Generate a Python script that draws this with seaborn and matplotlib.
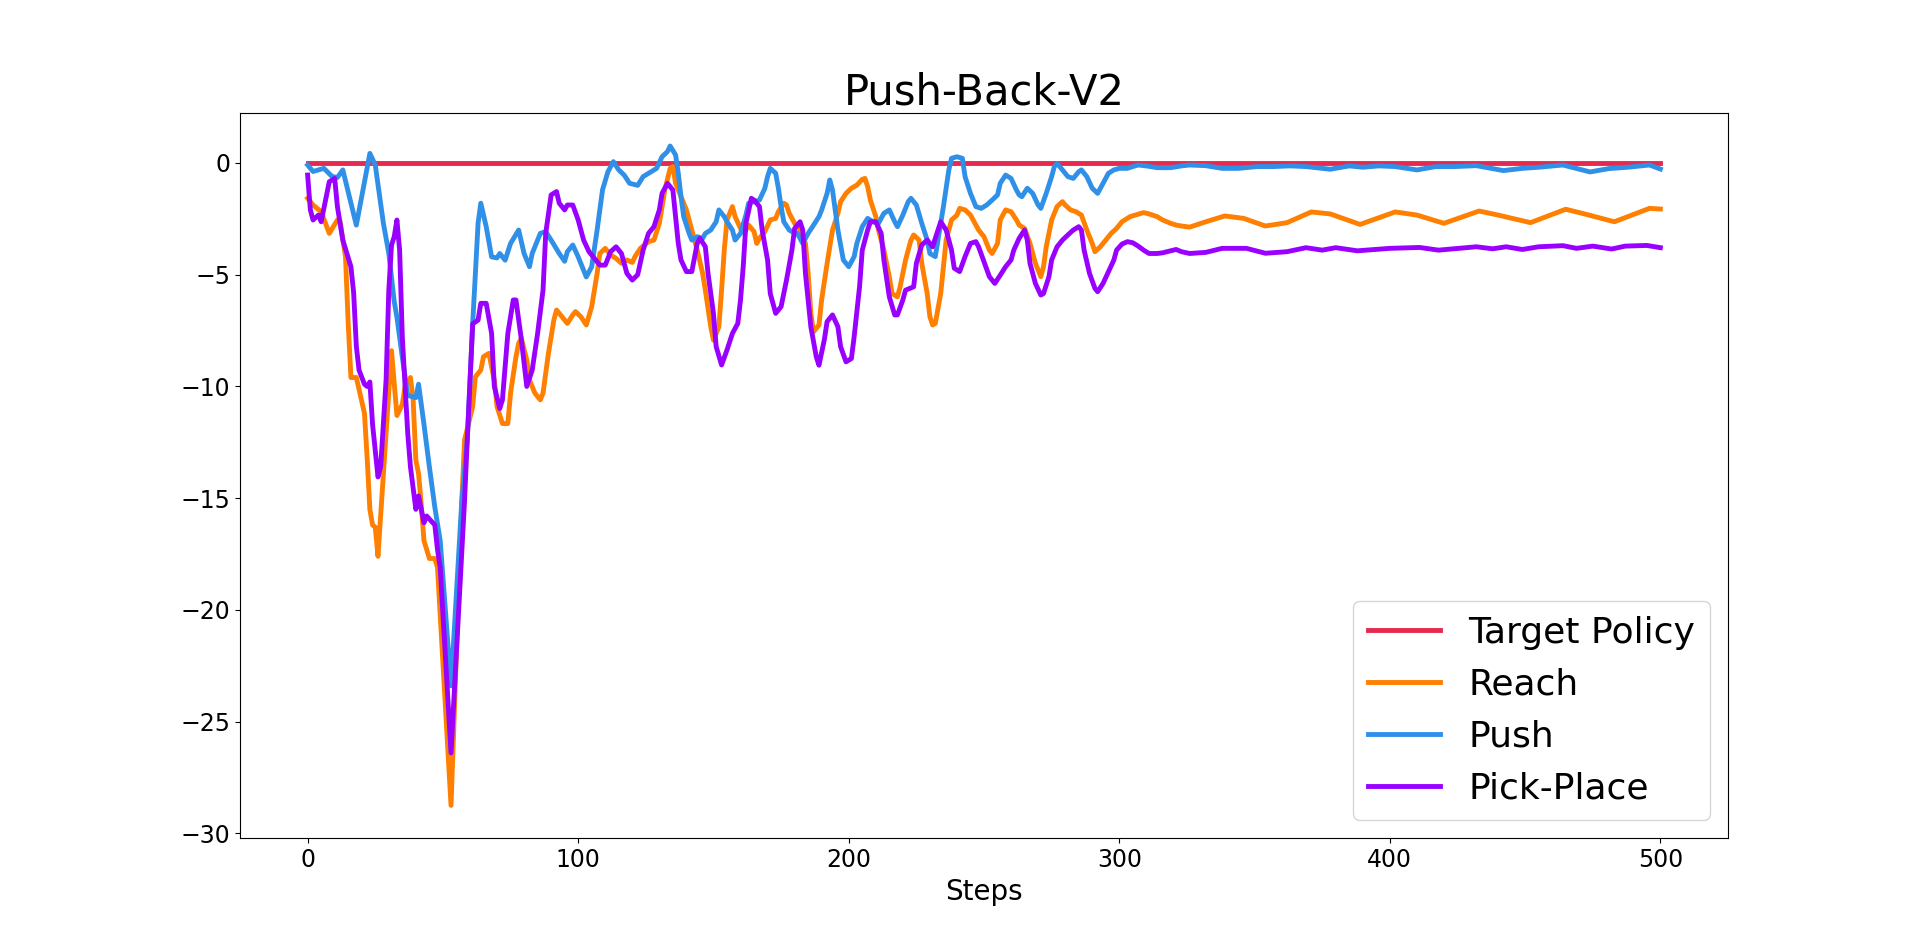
import matplotlib
matplotlib.use("Agg")
import matplotlib.pyplot as plt
import pandas as pd
import seaborn as sns

# values (step, reward)
target_steps = [0, 500]
target_vals = [0.0, 0.0]

push_steps = [0, 2, 6, 9, 11, 13, 18, 23, 25, 28, 30, 32, 33, 35, 37, 40, 41, 43, 45, 47,
              49, 53, 57, 59, 61, 63, 64, 66, 68, 70, 71, 73, 75, 78, 80, 82, 83, 86, 88, 90,
              93, 95, 96, 98, 100, 103, 105, 107, 109, 111, 113, 115, 117, 119, 122, 124, 126, 129, 131, 133,
              134, 136, 137, 138, 139, 141, 142, 144, 146, 147, 149, 151, 152, 154, 155, 157, 158, 160, 162, 163,
              165, 167, 169, 170, 171, 173, 174, 175, 176, 178, 179, 181, 183, 185, 187, 189, 190, 192, 193, 194,
              196, 198, 200, 202, 203, 205, 207, 209, 211, 213, 215, 217, 218, 220, 222, 223, 225, 227, 229, 230,
              232, 233, 235, 237, 238, 240, 242, 243, 245, 247, 249, 251, 253, 255, 256, 258, 260, 262, 263, 264,
              266, 268, 270, 271, 273, 275, 276, 277, 279, 281, 283, 285, 286, 288, 290, 292, 294, 296, 298, 300,
              303, 305, 307, 310, 314, 319, 323, 326, 332, 338, 344, 351, 357, 363, 369, 378, 385, 390, 396, 402,
              410, 417, 424, 432, 442, 449, 455, 464, 474, 481, 488, 496, 500]
push_vals = [-0.09, -0.38, -0.24, -0.6, -0.65, -0.31, -2.78, 0.43, -0.09, -2.7, -4.04, -6.2, -6.9, -8.7, -10.4, -10.5, -9.9, -11.7, -13.6, -15.4,
             -16.9, -23.4, -15.1, -12.4, -7.2, -2.7, -1.8, -2.85, -4.2, -4.25, -4.05, -4.35, -3.6, -3.0, -4.05, -4.64, -4.05, -3.15, -3.07, -3.45,
             -4.05, -4.4, -3.97, -3.67, -4.2, -5.1, -4.64, -3.0, -1.2, -0.39, 0.06, -0.31, -0.54, -0.91, -1.0, -0.61, -0.46, -0.24, 0.28, 0.51,
             0.76, 0.36, -0.46, -1.51, -2.4, -3.15, -3.45, -3.3, -3.37, -3.15, -3.0, -2.63, -2.1, -2.4, -2.63, -3.0, -3.45, -3.15, -2.33, -1.8,
             -1.73, -1.66, -1.13, -0.61, -0.24, -0.46, -1.13, -1.95, -2.63, -3.0, -3.07, -3.15, -3.6, -3.15, -2.78, -2.4, -2.1, -1.36, -0.76, -1.21,
             -3.0, -4.34, -4.64, -4.19, -3.6, -2.85, -2.48, -2.63, -2.7, -2.25, -2.1, -2.63, -2.85, -2.33, -1.73, -1.58, -1.88, -2.7, -3.45, -4.05,
             -4.19, -3.45, -1.95, -0.31, 0.21, 0.28, 0.21, -0.61, -1.36, -1.95, -2.03, -1.88, -1.66, -1.43, -0.91, -0.54, -0.69, -1.21, -1.43, -1.51,
             -1.13, -1.36, -1.88, -2.03, -1.36, -0.61, -0.16, -0.02, -0.31, -0.61, -0.69, -0.39, -0.31, -0.61, -1.13, -1.36, -0.91, -0.46, -0.31, -0.24,
             -0.24, -0.16, -0.09, -0.13, -0.21, -0.21, -0.13, -0.09, -0.12, -0.24, -0.24, -0.16, -0.16, -0.13, -0.16, -0.28, -0.13, -0.19, -0.13, -0.16,
             -0.31, -0.16, -0.16, -0.12, -0.34, -0.24, -0.19, -0.09, -0.40, -0.25, -0.19, -0.09, -0.27]

reach_steps = [0, 2, 5, 8, 11, 12, 14, 15, 16, 18, 21, 22, 23, 24, 25, 26, 28, 30, 31, 33,
               35, 36, 38, 39, 40, 41, 42, 43, 45, 47, 48, 53, 57, 58, 61, 62, 64, 65, 67, 69,
               70, 72, 74, 75, 77, 78, 79, 81, 82, 84, 86, 87, 89, 91, 92, 94, 96, 98, 99, 101,
               103, 105, 107, 108, 110, 112, 114, 116, 118, 120, 121, 123, 126, 128, 130, 132, 134, 135, 136, 138,
               140, 142, 144, 146, 147, 149, 150, 152, 153, 154, 155, 157, 158, 160, 162, 163, 165, 166, 167, 169,
               171, 173, 174, 176, 177, 178, 180, 182, 184, 185, 186, 187, 189, 190, 192, 194, 196, 197, 199, 201,
               203, 205, 206, 207, 208, 210, 211, 213, 215, 216, 218, 219, 221, 223, 224, 226, 227, 229, 230, 231,
               232, 234, 235, 236, 238, 240, 241, 243, 245, 247, 248, 250, 252, 253, 255, 256, 258, 260, 262, 263,
               265, 267, 269, 271, 272, 273, 275, 277, 279, 280, 282, 284, 286, 288, 290, 291, 293, 295, 297, 299,
               301, 304, 306, 309, 311, 314, 316, 319, 321, 323, 326, 332, 339, 346, 354, 362, 371, 378, 389, 402,
               410, 420, 433, 440, 452, 465, 472, 483, 496, 500]
reach_vals = [-1.58, -1.88, -2.18, -3.15, -2.55, -2.63, -4.2, -7.2, -9.6, -9.6, -11.2, -13.2, -15.5, -16.2, -16.3, -17.6, -13.9, -10.2, -8.4, -11.3,
              -10.8, -10.0, -9.6, -10.6, -13.3, -13.9, -15.3, -16.9, -17.7, -17.7, -18.1, -28.75, -15.1, -12.4, -10.9, -9.57, -9.27, -8.67, -8.52, -9.72,
              -10.9, -11.66, -11.66, -10.3, -8.67, -8.07, -7.85, -8.82, -9.72, -10.3, -10.6, -10.3, -8.52, -7.03, -6.58, -6.88, -7.18, -6.8, -6.65, -6.88,
              -7.25, -6.43, -4.94, -4.05, -3.82, -4.12, -4.27, -4.49, -4.34, -4.45, -4.19, -3.82, -3.52, -3.45, -2.7, -1.21, -0.24, -0.16, -0.91, -1.51,
              -2.1, -3.0, -3.9, -4.94, -5.69, -7.33, -7.93, -7.33, -5.69, -3.9, -2.55, -1.95, -2.4, -2.93, -3.0, -2.78, -3.07, -3.6, -3.37, -3.07,
              -2.55, -2.48, -2.18, -1.8, -1.88, -2.25, -2.7, -3.0, -3.6, -4.94, -6.73, -7.55, -7.25, -6.1, -4.5, -3.0, -2.25, -1.73, -1.36, -1.13,
              -0.99, -0.73, -0.69, -1.06, -1.66, -2.4, -3.0, -3.9, -5.09, -5.84, -5.99, -5.54, -4.34, -3.45, -3.22, -3.45, -4.49, -5.84, -6.88, -7.25,
              -7.18, -5.84, -4.64, -3.45, -2.55, -2.33, -2.03, -2.1, -2.33, -2.78, -3.0, -3.3, -3.9, -4.05, -3.6, -2.55, -2.1, -2.18, -2.55, -2.78,
              -2.93, -3.6, -4.49, -5.09, -4.64, -3.75, -2.55, -1.95, -1.73, -1.88, -2.1, -2.18, -2.33, -3.0, -3.6, -3.97, -3.75, -3.45, -3.15, -2.93,
              -2.63, -2.4, -2.33, -2.22, -2.28, -2.4, -2.55, -2.7, -2.78, -2.82, -2.87, -2.63, -2.37, -2.48, -2.82, -2.67, -2.19, -2.28, -2.75, -2.19,
              -2.33, -2.7, -2.15, -2.33, -2.67, -2.07, -2.28, -2.63, -2.03, -2.06]

pick_steps = [0, 1, 2, 4, 5, 7, 8, 10, 11, 13, 16, 17, 18, 19, 21, 22, 23, 24, 26, 27,
              29, 30, 31, 32, 33, 34, 35, 37, 38, 40, 41, 43, 44, 47, 48, 49, 53, 58, 59, 61,
              63, 64, 66, 68, 69, 71, 72, 74, 76, 77, 79, 81, 83, 85, 87, 88, 90, 92, 93, 95,
              96, 98, 100, 102, 104, 106, 108, 110, 112, 114, 116, 118, 120, 122, 124, 126, 128, 130, 131, 133,
              135, 136, 137, 138, 140, 142, 144, 145, 147, 148, 150, 151, 153, 155, 157, 159, 160, 161, 162, 164,
              165, 167, 168, 170, 171, 173, 175, 177, 179, 180, 182, 183, 184, 186, 188, 189, 191, 192, 194, 196,
              197, 199, 201, 202, 204, 205, 207, 208, 210, 212, 213, 215, 217, 218, 220, 221, 224, 225, 227, 229,
              231, 232, 234, 236, 238, 239, 241, 243, 245, 247, 248, 250, 252, 254, 256, 258, 260, 261, 263, 265,
              266, 267, 269, 271, 272, 274, 275, 277, 279, 281, 283, 285, 286, 287, 289, 291, 292, 294, 296, 298,
              299, 301, 303, 305, 307, 309, 311, 314, 316, 319, 321, 323, 326, 332, 338, 347, 354, 362, 369, 375,
              380, 388, 400, 411, 418, 432, 438, 443, 449, 455, 464, 469, 475, 482, 487, 495, 500]
pick_vals = [-0.54, -2.1, -2.55, -2.33, -2.63, -1.43, -0.84, -0.69, -1.95, -3.45, -4.64, -5.8, -8.2, -9.27, -9.9, -10.0, -9.8, -11.7, -14.05, -13.6,
             -9.7, -5.7, -3.67, -3.3, -2.55, -3.9, -7.8, -12.1, -13.6, -15.5, -14.9, -16.1, -15.8, -16.2, -17.3, -18.1, -26.4, -15.1, -12.4, -7.2,
             -7.03, -6.28, -6.28, -7.63, -10.0, -10.99, -10.6, -7.63, -6.13, -6.13, -7.9, -10.0, -9.27, -7.63, -5.7, -3.15, -1.43, -1.28, -1.8, -2.1,
             -1.88, -1.88, -2.55, -3.45, -3.97, -4.27, -4.57, -4.57, -3.97, -3.75, -4.05, -4.94, -5.24, -5.0, -3.9, -3.15, -2.85, -2.1, -1.36, -0.91,
             -1.21, -2.4, -3.6, -4.34, -4.86, -4.86, -3.6, -3.37, -3.75, -4.94, -6.73, -8.22, -9.04, -8.37, -7.63, -7.18, -6.13, -4.64, -2.7, -1.58,
             -1.66, -1.95, -3.0, -4.34, -5.84, -6.73, -6.43, -5.24, -3.9, -2.93, -2.63, -3.0, -4.94, -7.33, -8.67, -9.05, -7.9, -7.1, -6.8, -7.33,
             -8.22, -8.9, -8.75, -7.78, -5.54, -3.9, -3.0, -2.63, -2.63, -3.15, -4.34, -5.99, -6.8, -6.8, -6.13, -5.69, -5.54, -4.49, -3.67, -3.45,
             -3.75, -3.37, -2.63, -3.0, -3.9, -4.71, -4.86, -4.19, -3.6, -3.52, -3.75, -4.42, -5.09, -5.39, -5.02, -4.64, -4.34, -3.9, -3.37, -3.0,
             -3.45, -4.49, -5.39, -5.91, -5.84, -5.09, -4.34, -3.75, -3.45, -3.22, -3.0, -2.85, -3.0, -3.9, -4.94, -5.61, -5.76, -5.39, -4.86, -4.34,
             -3.9, -3.63, -3.52, -3.57, -3.72, -3.9, -4.05, -4.05, -4.02, -3.93, -3.87, -3.97, -4.05, -4.0, -3.82, -3.82, -4.04, -3.97, -3.79, -3.9,
             -3.79, -3.93, -3.82, -3.78, -3.9, -3.75, -3.84, -3.75, -3.87, -3.75, -3.7, -3.82, -3.72, -3.85, -3.72, -3.69, -3.79]

series = [
    ('Target Policy', target_steps, target_vals, '#e5294f'),
    ('Reach', reach_steps, reach_vals, '#ff7f00'),
    ('Push', push_steps, push_vals, '#3090e8'),
    ('Pick-Place', pick_steps, pick_vals, '#9900ff'),
]

fig, ax = plt.subplots(figsize=(19.2, 9.42), dpi=100)

for name, xs, ys, col in series:
    df = pd.DataFrame({'Steps': xs, 'Reward': ys})
    sns.lineplot(data=df, x='Steps', y='Reward', ax=ax, color=col, linewidth=3.5, label=name)

ax.set_title('Push-Back-V2', fontsize=30)
ax.set_xlabel('Steps', fontsize=20)
ax.set_ylabel('')
ax.tick_params(axis='both', labelsize=17)
ax.set_xticks([0, 100, 200, 300, 400, 500])
ax.legend(loc='lower right', fontsize=26)

plt.savefig('out.png', dpi=100)
plt.close()
